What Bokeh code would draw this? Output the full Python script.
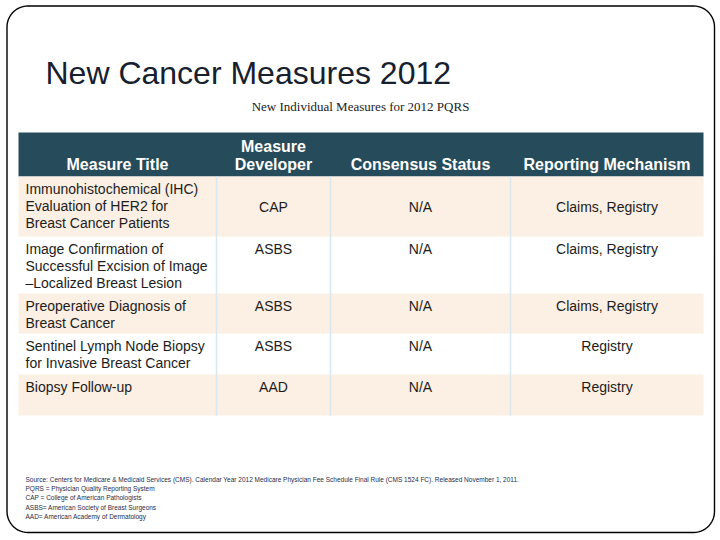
import numpy as np
from bokeh.plotting import figure
from bokeh.models import Range1d
from bokeh.embed import file_html
from bokeh.resources import INLINE
from bokeh.core.properties import value

# ---------------- data ----------------
title = "New Cancer Measures 2012"
subtitle = "New Individual Measures for 2012 PQRS"
headers = [["Measure Title"], ["Measure", "Developer"], ["Consensus Status"], ["Reporting Mechanism"]]
measure_titles = [
    ["Immunohistochemical (IHC)", "Evaluation of HER2 for", "Breast Cancer Patients"],
    ["Image Confirmation of", "Successful Excision of Image", "\u2013Localized Breast Lesion"],
    ["Preoperative Diagnosis of", "Breast Cancer"],
    ["Sentinel Lymph Node Biopsy", "for Invasive Breast Cancer"],
    ["Biopsy Follow-up"],
]
developers = ["CAP", "ASBS", "ASBS", "ASBS", "AAD"]
consensus = ["N/A", "N/A", "N/A", "N/A", "N/A"]
mechanisms = ["Claims, Registry", "Claims, Registry", "Claims, Registry", "Registry", "Registry"]
footnotes = [
    "Source: Centers for Medicare & Medicaid Services (CMS). Calendar Year 2012 Medicare Physician Fee Schedule Final Rule (CMS 1524 FC). Released November 1, 2011.",
    "PQRS = Physician Quality Reporting System",
    "CAP = College of American Pathologists",
    "ASBS= American Society of Breast Surgeons",
    "AAD= American Academy of Dermatology",
]

# ---------------- layout ----------------
col_edges = [18, 216, 330, 510, 703]
header_top, header_bottom = 132, 176
row_edges = [176, 236, 293, 333, 374, 415]
row_valign = ["middle", "top", "top", "top", "top"]
line_h = 17
first_line_off = 12.5
HEADER_BG = "#264b5a"
PEACH = "#fcefe4"
VLINE = "#d8e7f0"
TEXT = "#1c1c1c"
SANS = "Liberation Sans"

p = figure(width=720, height=540, x_range=Range1d(0, 720), y_range=Range1d(540, 0),
           output_backend="svg", toolbar_location=None, min_border=0,
           x_axis_location=None, y_axis_location=None)
p.grid.visible = False
p.outline_line_color = None
p.background_fill_color = "white"
p.border_fill_color = "white"

# rounded slide border
def rounded(l, t, r, b, rad, n=14):
    xs, ys = [], []
    for cx, cy, a0 in [(l + rad, t + rad, np.pi), (r - rad, t + rad, 1.5 * np.pi),
                       (r - rad, b - rad, 0.0), (l + rad, b - rad, 0.5 * np.pi)]:
        th = np.linspace(a0, a0 + 0.5 * np.pi, n)
        xs.extend(cx + rad * np.cos(th))
        ys.extend(cy + rad * np.sin(th))
    xs.append(xs[0]); ys.append(ys[0])
    return xs, ys

bx, by = rounded(6.5, 5.5, 714, 532, 21)
p.line(bx, by, line_color="black", line_width=1.4)

# title + subtitle
p.text(x=[45], y=[72], text=[title], text_font=value(SANS), text_font_size="32px",
       text_color="#17202e", text_baseline="alphabetic", text_align="left")
p.text(x=[360], y=[106], text=[subtitle], text_font=value("Liberation Serif"),
       text_font_size="13px", text_color="#222222", text_baseline="middle", text_align="center")

# header band
p.quad(left=[col_edges[0]], right=[col_edges[-1]], top=[header_top], bottom=[header_bottom],
       fill_color=HEADER_BG, line_color=None)

# body row backgrounds (alternating)
rl, rr, rt, rb = [], [], [], []
for i in range(len(row_edges) - 1):
    if i % 2 == 0:
        rl.append(col_edges[0]); rr.append(col_edges[-1])
        rt.append(row_edges[i]); rb.append(row_edges[i + 1])
p.quad(left=rl, right=rr, top=rt, bottom=rb, fill_color=PEACH, line_color=None)

# vertical column separators in body
p.segment(x0=col_edges[1:-1], x1=col_edges[1:-1], y0=[row_edges[0]] * 3, y1=[row_edges[-1]] * 3,
          line_color=VLINE, line_width=1.5)

# header texts (bottom aligned)
hx, hy, ht = [], [], []
for c, lines in enumerate(headers):
    cx = (col_edges[c] + col_edges[c + 1]) / 2
    n = len(lines)
    for k, s in enumerate(lines):
        hx.append(cx); hy.append(164 - (n - 1 - k) * 18); ht.append(s)
p.text(x=hx, y=hy, text=ht, text_font=value(SANS), text_font_size="16px", text_font_style="bold",
       text_color="white", text_align="center", text_baseline="middle")

# body texts
tx, ty, tt = [], [], []
cx_, cy_, ct_ = [], [], []
for i, lines in enumerate(measure_titles):
    top = row_edges[i]
    for k, s in enumerate(lines):
        tx.append(25); ty.append(top + first_line_off + k * line_h); tt.append(s)
    if row_valign[i] == "middle":
        yy = (row_edges[i] + row_edges[i + 1]) / 2
    else:
        yy = top + first_line_off
    for c, col in enumerate([developers, consensus, mechanisms]):
        cx_.append((col_edges[c + 1] + col_edges[c + 2]) / 2); cy_.append(yy); ct_.append(col[i])
p.text(x=tx, y=ty, text=tt, text_font=value(SANS), text_font_size="14px", text_color=TEXT,
       text_align="left", text_baseline="middle")
p.text(x=cx_, y=cy_, text=ct_, text_font=value(SANS), text_font_size="14px", text_color=TEXT,
       text_align="center", text_baseline="middle")

# footnotes
fy = [479 + 9.2 * k for k in range(len(footnotes))]
p.text(x=[25] * len(footnotes), y=fy, text=footnotes, text_font=value(SANS), text_font_size="6.5px",
       text_color="#1f2d4a", text_align="left", text_baseline="middle")

open("out.html", "w").write(file_html(p, INLINE))
